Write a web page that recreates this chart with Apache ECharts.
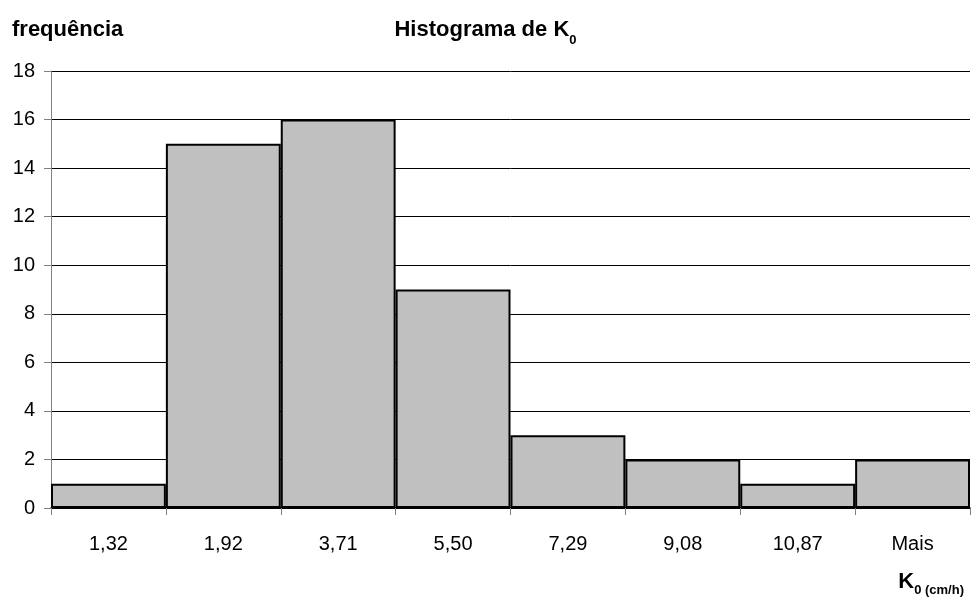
<!DOCTYPE html>
<html>
<head>
<meta charset="utf-8">
<script src="https://cdn.jsdelivr.net/npm/echarts@6/dist/echarts.min.js"></script>
<style>
  html, body { margin: 0; padding: 0; background: #fff; }
  #chart { width: 971px; height: 599px; }
</style>
</head>
<body>
<div id="chart"></div>
<script>
// Histogram bins (upper limits of K0 classes, cm/h) and their frequencies
const binLabels = ['1,32', '1,92', '3,71', '5,50', '7,29', '9,08', '10,87', 'Mais'];
const frequencies = [1, 15, 16, 9, 3, 2, 1, 2];
const yTicks = { min: 0, max: 18, step: 2 };

const FONT = '"Liberation Sans", Arial, sans-serif';

// main text + lowered subscript, both anchored to the top of the line
function subscriptRich(mainSize, subSize, drop) {
  return {
    a: { fontFamily: FONT, fontSize: mainSize, fontWeight: 'bold', color: '#000', verticalAlign: 'top' },
    b: { fontFamily: FONT, fontSize: subSize, fontWeight: 'bold', color: '#000', verticalAlign: 'top', padding: [drop, 0, 0, 0] }
  };
}

const chart = echarts.init(document.getElementById('chart'), null, { renderer: 'canvas' });

chart.setOption({
  animation: false,
  backgroundColor: '#ffffff',
  textStyle: { fontFamily: FONT, color: '#000' },
  title: [
    {
      text: '{a|Histograma de K}{b|0}',
      left: 'center',
      top: 19,
      padding: 0,
      textStyle: { rich: subscriptRich(22, 13, 15) }
    },
    {
      text: 'frequência',
      left: 12,
      top: 19,
      padding: 0,
      textStyle: { fontFamily: FONT, fontSize: 22, fontWeight: 'bold', color: '#000' }
    },
    {
      text: '{a|K}{b|0 (cm/h)}',
      right: 7,
      top: 571,
      padding: 0,
      textStyle: { rich: subscriptRich(22, 13, 13) }
    }
  ],
  grid: { left: 51, right: 1, top: 71, bottom: 91, containLabel: false },
  xAxis: {
    type: 'category',
    data: binLabels,
    boundaryGap: true,
    axisLine: { show: true, lineStyle: { color: '#000', width: 1.5 } },
    axisTick: { show: true, alignWithLabel: false, length: 7, lineStyle: { color: '#808080', width: 1 } },
    axisLabel: { fontFamily: FONT, fontSize: 20, color: '#000', margin: 26 },
    splitLine: { show: false }
  },
  yAxis: {
    type: 'value',
    min: yTicks.min,
    max: yTicks.max,
    interval: yTicks.step,
    axisLine: { show: true, lineStyle: { color: '#808080', width: 1 } },
    axisTick: { show: true, length: 7, lineStyle: { color: '#808080', width: 1 } },
    axisLabel: { fontFamily: FONT, fontSize: 20, color: '#000', margin: 16 },
    splitLine: { show: true, lineStyle: { color: '#000', width: 1 } }
  },
  series: [
    {
      type: 'bar',
      data: frequencies,
      barCategoryGap: 0,
      itemStyle: { color: '#c0c0c0', borderColor: '#000', borderWidth: 2 },
      emphasis: { disabled: true }
    }
  ]
});
</script>
</body>
</html>
